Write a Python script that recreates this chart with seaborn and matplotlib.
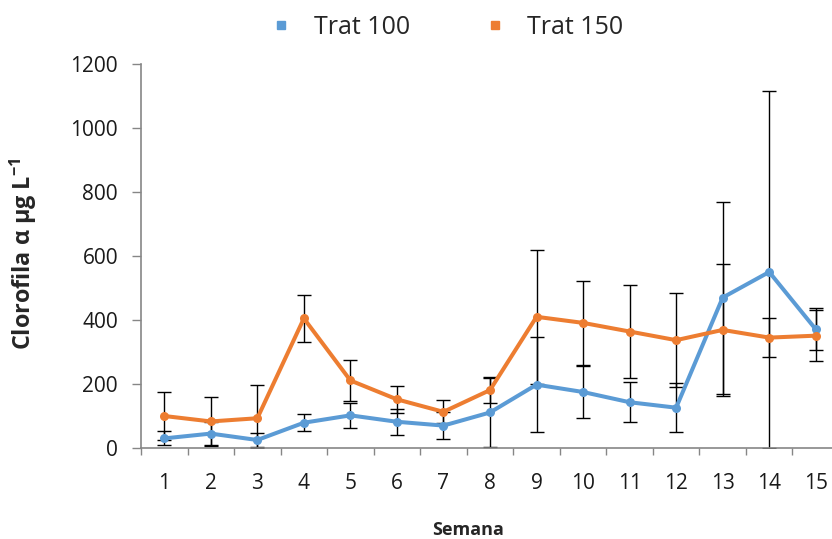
import numpy as np
import pandas as pd
import matplotlib
matplotlib.use("Agg")
import matplotlib.pyplot as plt
from matplotlib.lines import Line2D
import seaborn as sns

semanas = list(range(1, 16))
trat100 = [30, 45, 25, 79, 102, 82, 70, 111, 198, 175, 143, 126, 470, 550, 371]
err100 = [22, 35, 21, 26, 40, 40, 43, 109, 149, 82, 63, 76, 300, 565, 65]
trat150 = [100, 83, 93, 405, 211, 152, 113, 181, 410, 391, 364, 337, 369, 345, 351]
err150 = [75, 76, 105, 73, 64, 43, 36, 40, 209, 131, 145, 146, 207, 62, 80]
series_names = ["Trat 100", "Trat 150"]
colors = ["#5B9BD5", "#ED7D31"]
yticks = [0, 200, 400, 600, 800, 1000, 1200]

sns.set_theme(style="white")
plt.rcParams['font.family'] = ['Open Sans', 'DejaVu Sans']
plt.rcParams['mathtext.fontset'] = 'custom'
plt.rcParams['mathtext.bf'] = 'Open Sans:bold'
plt.rcParams['mathtext.rm'] = 'Open Sans'

df = pd.DataFrame({
    "Semana": semanas * 2,
    "valor": trat100 + trat150,
    "serie": [series_names[0]] * 15 + [series_names[1]] * 15,
})

fig = plt.figure(figsize=(8.32, 5.39), dpi=100)
ax = fig.add_axes([141 / 832, 91 / 539, 698 / 832, 384 / 539])

for vals, errs in zip([trat100, trat150], [err100, err150]):
    lo = [min(e, v) for v, e in zip(vals, errs)]
    ax.errorbar(semanas, vals, yerr=[lo, errs], fmt="none", ecolor="black",
                elinewidth=1.0, capsize=5, capthick=1.0, zorder=1)

sns.lineplot(data=df, x="Semana", y="valor", hue="serie", palette=colors,
             linewidth=2.9, marker="o", markersize=6.5, markeredgewidth=0,
             ax=ax, legend=False, zorder=3)

ax.set_xlim(0.5, 15.5)
ax.set_ylim(0, 1200)
ax.set_yticks(yticks)
ax.set_yticklabels([str(t) for t in yticks])
ax.set_xticks(semanas)
ax.set_xticklabels([str(s) for s in semanas])
ax.set_xticks(np.arange(0.5, 16, 1), minor=True)
ax.tick_params(axis="x", which="major", length=0, labelsize=15, pad=18)
ax.tick_params(axis="x", which="minor", length=5, width=1, direction="out",
               color="#868686", bottom=True)
ax.tick_params(axis="y", which="major", length=6.5, width=1, direction="out",
               color="#868686", left=True, labelsize=15, pad=10)
for lab in ax.get_yticklabels() + ax.get_xticklabels():
    lab.set_color("#1a1a1a")

for s in ["top", "right"]:
    ax.spines[s].set_visible(False)
for s in ["left", "bottom"]:
    ax.spines[s].set_color("#868686")
    ax.spines[s].set_linewidth(1.2)

ax.set_xlabel("Semana", fontsize=13, fontweight="bold")
ax.xaxis.set_label_coords((468 - 141) / 698, (448 - 521) / 384)
ax.set_ylabel("Clorofila α μg L$^{\\mathbf{-1}}$", fontsize=16.8, fontweight="bold")
ax.yaxis.set_label_coords((39 - 141) / 698, 0.505)

handles = [Line2D([], [], linestyle="none", marker="s", markersize=6, color=c) for c in colors]
fig.legend(handles, series_names, loc="center", bbox_to_anchor=(446 / 832, 1 - 27.5 / 539),
           ncol=2, frameon=False, fontsize=18, handletextpad=0.8, columnspacing=2.9,
           handlelength=1.0, borderpad=0)

fig.savefig("out.png", dpi=100)
